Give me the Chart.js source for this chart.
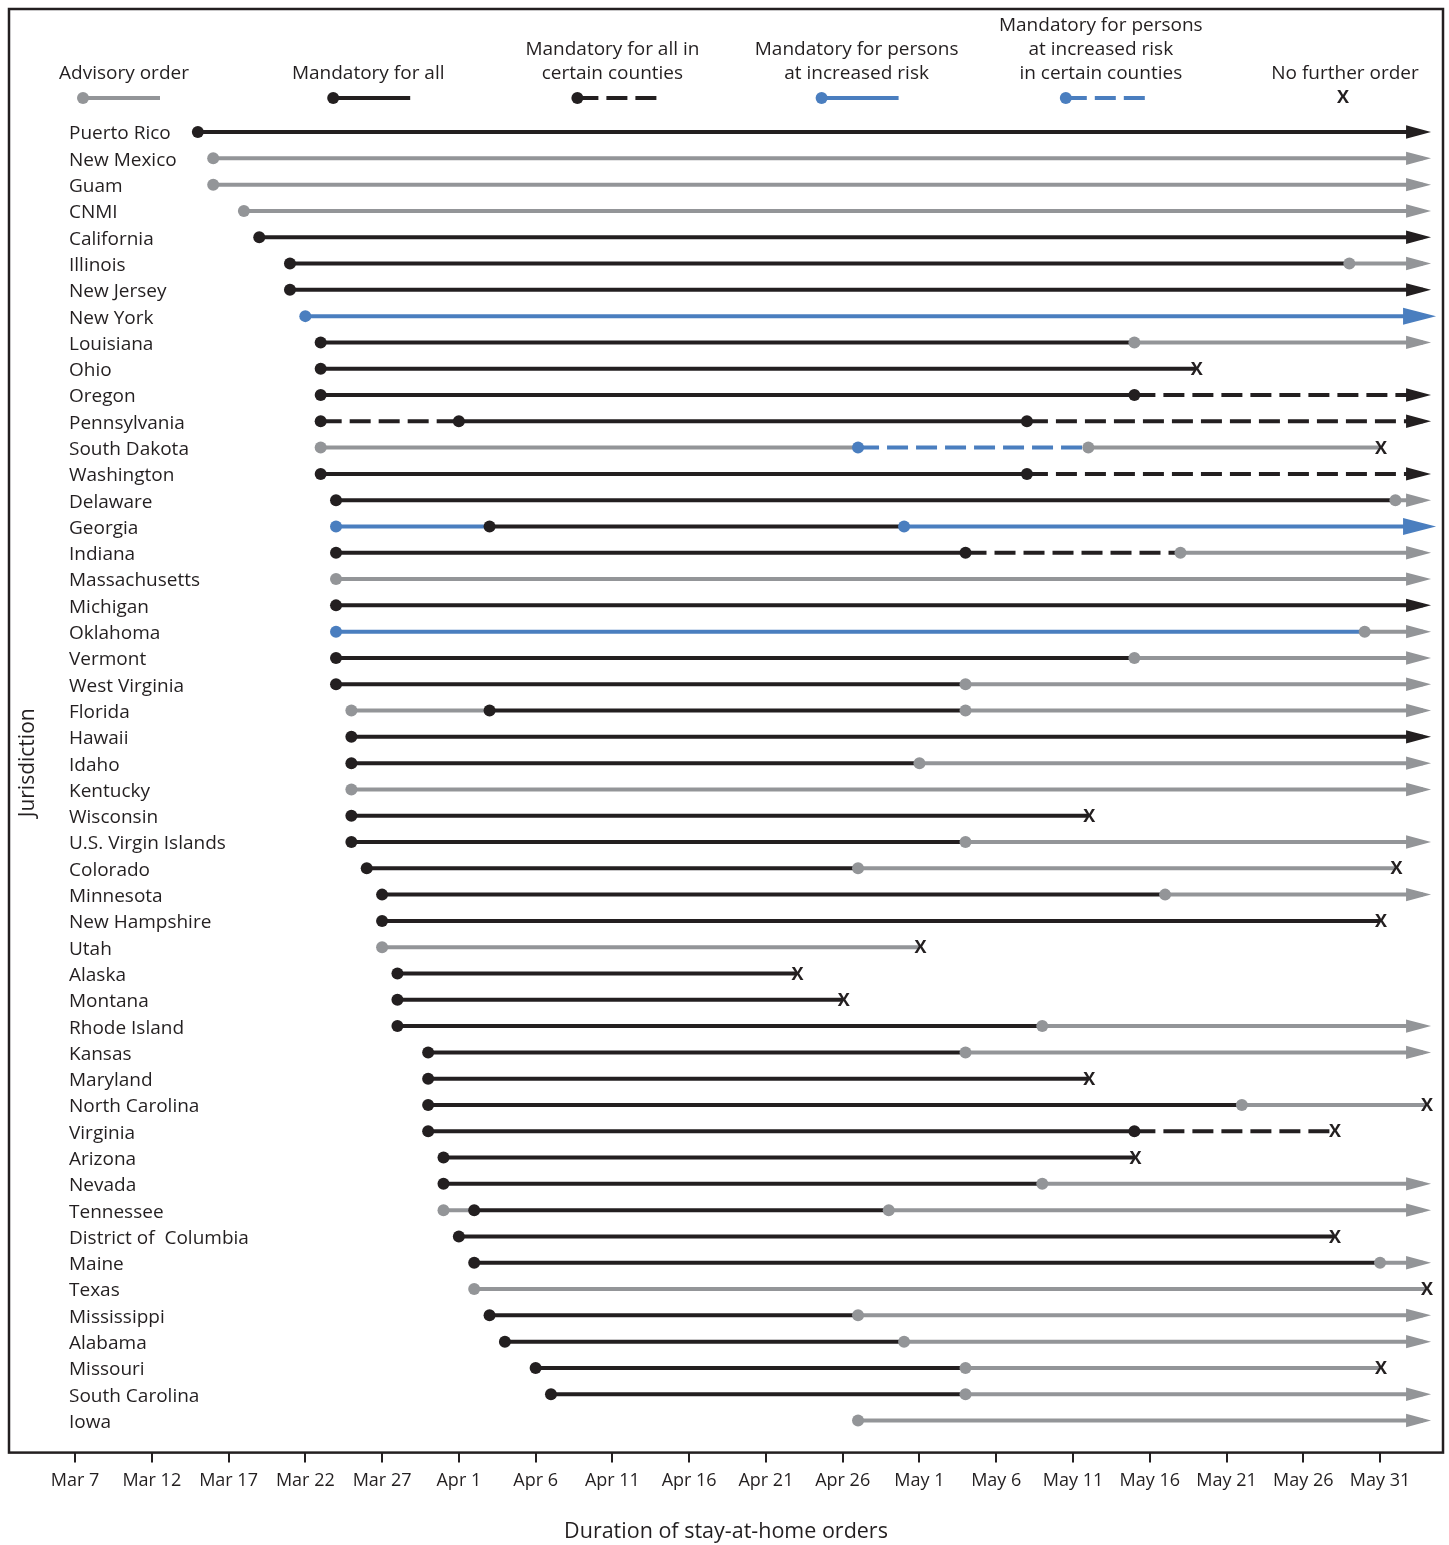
<!DOCTYPE html>
<html>
<head>
<meta charset="utf-8">
<script src="https://cdn.jsdelivr.net/npm/chart.js@4.4.1/dist/chart.umd.min.js"></script>
<style>
  html, body { margin: 0; padding: 0; background: #fff; }
  #wrap { width: 1449px; height: 1545px; position: relative; }
</style>
</head>
<body>
<div id="wrap"><canvas id="orders"></canvas></div>
<script>
// Jurisdictions, top to bottom
const jurisdictions = [
  'Puerto Rico', 'New Mexico', 'Guam', 'CNMI', 'California', 'Illinois', 'New Jersey', 'New York',
  'Louisiana', 'Ohio', 'Oregon', 'Pennsylvania', 'South Dakota', 'Washington', 'Delaware', 'Georgia',
  'Indiana', 'Massachusetts', 'Michigan', 'Oklahoma', 'Vermont', 'West Virginia', 'Florida', 'Hawaii',
  'Idaho', 'Kentucky', 'Wisconsin', 'U.S. Virgin Islands', 'Colorado', 'Minnesota', 'New Hampshire', 'Utah',
  'Alaska', 'Montana', 'Rhode Island', 'Kansas', 'Maryland', 'North Carolina', 'Virginia', 'Arizona',
  'Nevada', 'Tennessee', 'District of  Columbia', 'Maine', 'Texas', 'Mississippi', 'Alabama', 'Missouri',
  'South Carolina', 'Iowa'
]

// Date each order began (month/day, 2020)
const orderStarts = [
  ['3/15'], ['3/16'], ['3/16'], ['3/18'], ['3/19'], ['3/21', '5/29'], ['3/21'], ['3/22'],
  ['3/23', '5/15'], ['3/23'], ['3/23', '5/15'], ['3/23', '4/1', '5/8'], ['3/23', '4/27', '5/12'], ['3/23', '5/8'], ['3/24', '6/1'], ['3/24', '4/3', '4/30'],
  ['3/24', '5/4', '5/18'], ['3/24'], ['3/24'], ['3/24', '5/30'], ['3/24', '5/15'], ['3/24', '5/4'], ['3/25', '4/3', '5/4'], ['3/25'],
  ['3/25', '5/1'], ['3/25'], ['3/25'], ['3/25', '5/4'], ['3/26', '4/27'], ['3/27', '5/17'], ['3/27'], ['3/27'],
  ['3/28'], ['3/28'], ['3/28', '5/9'], ['3/30', '5/4'], ['3/30'], ['3/30', '5/22'], ['3/30', '5/15'], ['3/31'],
  ['3/31', '5/9'], ['3/31', '4/2', '4/29'], ['4/1'], ['4/2', '5/31'], ['4/2'], ['4/3', '4/27'], ['4/4', '4/30'], ['4/6', '5/4'],
  ['4/7', '5/4'], ['4/27']
]

// A = advisory, M = mandatory for all, MC = mandatory for all in certain counties,
// R = mandatory for persons at increased risk, RC = same, in certain counties
const orderTypes = [
  ['M'], ['A'], ['A'], ['A'], ['M'], ['M', 'A'], ['M'], ['R'],
  ['M', 'A'], ['M'], ['M', 'MC'], ['MC', 'M', 'MC'], ['A', 'RC', 'A'], ['M', 'MC'], ['M', 'A'], ['R', 'M', 'R'],
  ['M', 'MC', 'A'], ['A'], ['M'], ['R', 'A'], ['M', 'A'], ['M', 'A'], ['A', 'M', 'A'], ['M'],
  ['M', 'A'], ['A'], ['M'], ['M', 'A'], ['M', 'A'], ['M', 'A'], ['M'], ['A'],
  ['M'], ['M'], ['M', 'A'], ['M', 'A'], ['M'], ['M', 'A'], ['M', 'MC'], ['M'],
  ['M', 'A'], ['A', 'M', 'A'], ['M'], ['M', 'A'], ['A'], ['M', 'A'], ['M', 'A'], ['M', 'A'],
  ['M', 'A'], ['A']
]

// Date of "no further order" (X); null = still in force at the end of the axis
const noFurtherOrder = [
  null, null, null, null, null, null, null, null,
  null, '5/19', null, null, '5/31', null, null, null,
  null, null, null, null, null, null, null, null,
  null, null, '5/12', null, '6/1', null, '5/31', '5/1',
  '4/23', '4/26', null, null, '5/12', '6/3', '5/28', '5/15',
  null, null, '5/28', null, '6/3', null, null, '5/31',
  null, null
]

const tickLabels = ['Mar 7', 'Mar 12', 'Mar 17', 'Mar 22', 'Mar 27', 'Apr 1', 'Apr 6', 'Apr 11', 'Apr 16',
  'Apr 21', 'Apr 26', 'May 1', 'May 6', 'May 11', 'May 16', 'May 21', 'May 26', 'May 31']

const legendLabels = [
  ['Advisory order'],
  ['Mandatory for all'],
  ['Mandatory for all in', 'certain counties'],
  ['Mandatory for persons', 'at increased risk'],
  ['Mandatory for persons', 'at increased risk', 'in certain counties'],
  ['No further order']
]
const legendKeys = ['A', 'M', 'MC', 'R', 'RC', 'X']


// styles
const ink = '#231f20'
const gray = '#939598'
const blue = '#4a7ebf'
const styles = {
  A: { color: gray, dash: [] },
  M: { color: ink, dash: [] },
  MC: { color: ink, dash: [21, 8] },
  R: { color: blue, dash: [] },
  RC: { color: blue, dash: [21, 8] }
}

// days since Mar 7
const dayOf = s => {
  const [m, d] = s.split('/').map(Number)
  return (Date.UTC(2020, m - 1, d) - Date.UTC(2020, 2, 7)) / 864e5
}
const ongoingUntil = 87.8

// one line dataset per order
const datasets = []
let z = 0
jurisdictions.forEach((name, row) => {
  const starts = orderStarts[row].map(dayOf)
  const end = noFurtherOrder[row] ? dayOf(noFurtherOrder[row]) : ongoingUntil
  starts.forEach((s, k) => {
    const st = styles[orderTypes[row][k]]
    const e = k < starts.length - 1 ? starts[k + 1] : end
    datasets.push({
      label: name,
      data: [{ x: s, y: row }, { x: e, y: row }],
      borderColor: st.color,
      borderWidth: 4,
      borderDash: st.dash,
      borderCapStyle: 'butt',
      pointRadius: [6, 0],
      pointHoverRadius: 0,
      pointBackgroundColor: st.color,
      pointBorderWidth: 0,
      order: --z
    })
  })
})

// arrows, X marks, frame
const drawArrow = (ctx, x, y, color, big) => {
  const len = big ? 33 : 25
  const half = big ? 8.5 : 6.7
  const tip = x + (big ? 13 : 8)
  ctx.fillStyle = color
  ctx.beginPath()
  ctx.moveTo(tip, y)
  ctx.lineTo(tip - len, y - half)
  ctx.lineTo(tip - len, y + half)
  ctx.closePath()
  ctx.fill()
}
const drawX = (ctx, x, y) => {
  ctx.fillStyle = ink
  ctx.font = 'bold 18px "Open Sans"'
  ctx.textAlign = 'center'
  ctx.textBaseline = 'middle'
  ctx.fillText('X', x, y + 1)
}

const marks = {
  id: 'marks',
  afterDatasetsDraw(chart) {
    const { ctx, chartArea: a, scales: { x, y } } = chart
    ctx.save()
    jurisdictions.forEach((name, row) => {
      const py = y.getPixelForValue(row)
      if (noFurtherOrder[row]) {
        drawX(ctx, x.getPixelForValue(dayOf(noFurtherOrder[row])) + 1, py)
      } else {
        const last = orderTypes[row][orderTypes[row].length - 1]
        drawArrow(ctx, x.getPixelForValue(ongoingUntil), py, styles[last].color, last === 'R')
      }
    })
    ctx.strokeStyle = ink
    ctx.lineWidth = 2.5
    ctx.strokeRect(a.left, a.top, a.width, a.height)
    ctx.restore()
  }
}

// row names + "Jurisdiction" inside the frame
const rowLabels = {
  id: 'rowLabels',
  afterDraw(chart) {
    const { ctx, chartArea: a, scales: { y } } = chart
    ctx.save()
    ctx.fillStyle = ink
    ctx.font = '19px "Open Sans"'
    ctx.textAlign = 'left'
    ctx.textBaseline = 'middle'
    jurisdictions.forEach((name, row) => ctx.fillText(name, a.left + 60, y.getPixelForValue(row) + 2))
    ctx.translate(a.left + 19, (a.top + a.bottom) / 2 + 32)
    ctx.rotate(-Math.PI / 2)
    ctx.textAlign = 'center'
    ctx.font = '21px "Open Sans"'
    ctx.fillText('Jurisdiction', 0, 0)
    ctx.restore()
  }
}

// legend key: dot offset from the text centre, and sample length
const orderLegend = {
  id: 'orderLegend',
  afterDraw(chart) {
    const { ctx, chartArea: a } = chart
    ctx.save()
    legendLabels.forEach((lines, i) => {
      const cx = a.left + 115 + i * 244.2
      ctx.fillStyle = ink
      ctx.font = '19px "Open Sans"'
      ctx.textAlign = 'center'
      ctx.textBaseline = 'middle'
      lines.forEach((t, j) => ctx.fillText(t, cx, a.top + 65 - (lines.length - 1 - j) * 24))
      const key = legendKeys[i]
      const ly = a.top + 89
      if (key === 'X') {
        drawX(ctx, cx - 2, ly - 1)
        return
      }
      const st = styles[key]
      const x0 = cx + (i === 0 ? -41 : -35)
      const x1 = x0 + (st.dash.length ? 83 : 77)
      ctx.strokeStyle = st.color
      ctx.lineWidth = 4
      ctx.setLineDash(st.dash)
      ctx.beginPath()
      ctx.moveTo(x0, ly)
      ctx.lineTo(x1, ly)
      ctx.stroke()
      ctx.setLineDash([])
      ctx.fillStyle = st.color
      ctx.beginPath()
      ctx.arc(x0, ly, 6, 0, Math.PI * 2)
      ctx.fill()
    })
    ctx.restore()
  }
}

Chart.defaults.font.family = '"Open Sans", sans-serif'
Chart.defaults.color = ink

new Chart(document.getElementById('orders'), {
  type: 'line',
  data: { datasets },
  options: {
    responsive: true,
    maintainAspectRatio: false,
    animation: false,
    events: [],
    layout: { padding: { left: 9, top: 9, right: 6, bottom: 0 } },
    plugins: {
      legend: { display: false },
      tooltip: { enabled: false }
    },
    scales: {
      x: {
        type: 'linear',
        min: -4.3,
        max: 89.1,
        afterBuildTicks: s => { s.ticks = tickLabels.map((_, i) => ({ value: i * 5 })) },
        ticks: {
          autoSkip: false,
          maxRotation: 0,
          padding: 7,
          font: { size: 18 },
          color: ink,
          callback: (v, i) => tickLabels[i]
        },
        grid: { display: true, drawOnChartArea: false, drawTicks: true, tickLength: 10, color: ink, lineWidth: 2 },
        border: { display: false },
        title: {
          display: true,
          text: 'Duration of stay-at-home orders',
          font: { size: 21.5 },
          color: ink,
          padding: { top: 21, bottom: 0 }
        }
      },
      y: {
        type: 'linear',
        display: false,
        reverse: true,
        min: -4.68,
        max: 50.22
      }
    }
  },
  plugins: [marks, rowLabels, orderLegend]
})
</script>
</body>
</html>
